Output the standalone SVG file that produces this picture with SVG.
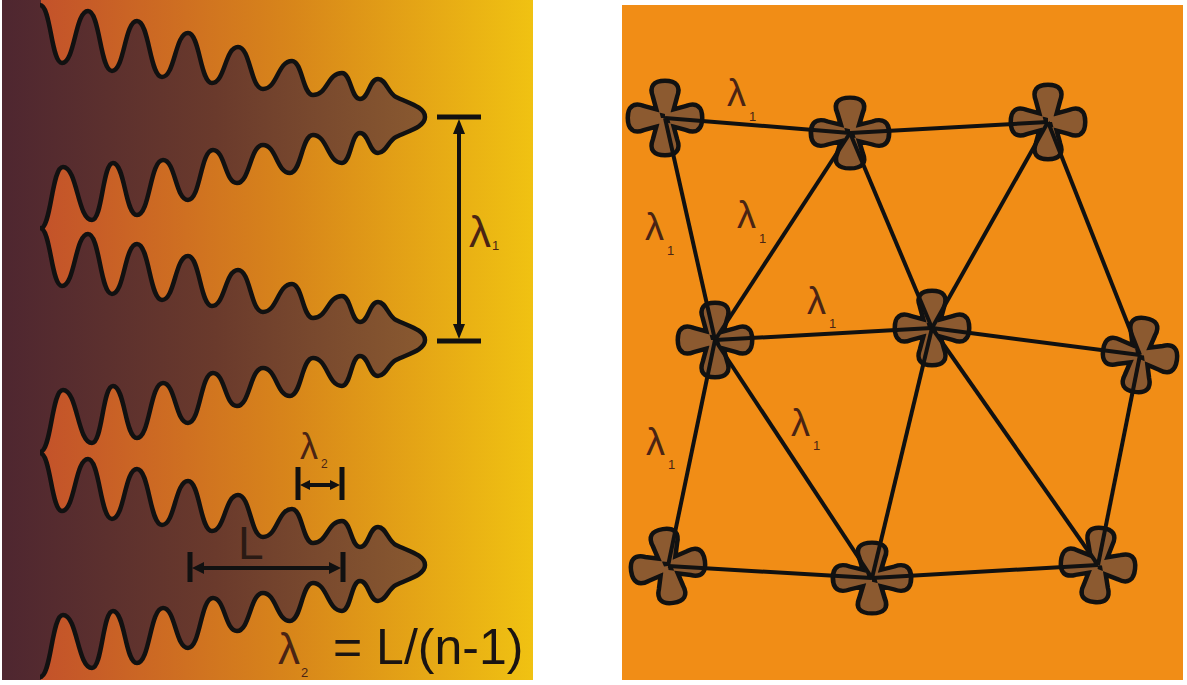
<svg xmlns="http://www.w3.org/2000/svg" width="1187" height="685" viewBox="0 0 1187 685">
<style>
.wave{fill:none;stroke:#111;stroke-width:4.5;stroke-linejoin:round}
.bar{stroke:#111;stroke-width:4;fill:none}
.edge{stroke:#111;stroke-width:4;fill:none}
.lam{font-family:"Liberation Sans",sans-serif;fill:#4a2414}
.sub{font-family:"Liberation Sans",sans-serif;fill:#4a2414}
</style>
<defs>
<linearGradient id="bg" x1="0" y1="0" x2="533" y2="0" gradientUnits="userSpaceOnUse">
<stop offset="0" stop-color="#c04a2c"/><stop offset="0.15" stop-color="#c65a28"/><stop offset="0.55" stop-color="#d8861a"/><stop offset="1" stop-color="#f0c212"/>
</linearGradient>
<linearGradient id="br" x1="0" y1="0" x2="430" y2="0" gradientUnits="userSpaceOnUse">
<stop offset="0" stop-color="#4e2630"/><stop offset="0.5" stop-color="#6a3a2c"/><stop offset="1" stop-color="#8a5a30"/>
</linearGradient>
<clipPath id="lp"><rect x="2" y="0" width="531" height="680"/></clipPath>
<path id="fw" d="M40,-112 C51,-112 51,-54 62,-54 C75,-54 75,-106 88,-106 C100,-106 100,-46 112,-46 C124.5,-46 124.5,-96 137,-96 C149.5,-96 149.5,-40 162,-40 C175,-40 175,-84 188,-84 C200,-84 200,-34 212,-34 C225,-34 225,-70 238,-70 C250.5,-70 250.5,-28 263,-28 C277.5,-28 277.5,-56 292,-56 C302.5,-56 302.5,-22 313,-22 C327.5,-22 327.5,-44 342,-44 C351,-44 351,-18 360,-18 C369,-18 369,-38 378,-38 C386,-38 388,-24 396,-20 C408,-14 425,-10 425,0 C425,10 408,14 396,20 C388,24 386,36 378,36 C369,36 369,16 360,16 C351,16 351,46 342,46 C327.5,46 327.5,18 313,18 C301.5,18 301.5,56 290,56 C276.5,56 276.5,28 263,28 C250,28 250,66 237,66 C225,66 225,33 213,33 C200.5,33 200.5,83 188,83 C175.5,83 175.5,43 163,43 C150,43 150,98 137,98 C125,98 125,46 113,46 C102.5,46 102.5,103 92,103 C77.5,103 77.5,50 63,50 C51.5,50 51.5,112 40,112"/>
<path id="clv" d="M-4,0 L-10,-22 Q-15,-35 0,-35 Q15,-35 10,-22 L4,0 Z M-4,0 L-10,22 Q-15,35 0,35 Q15,35 10,22 L4,0 Z M0,-4 L-22,-10 Q-35,-15 -35,0 Q-35,15 -22,10 L0,4 Z M0,-4 L22,-10 Q35,-15 35,0 Q35,15 22,10 L0,4 Z"/>
<g id="node"><use href="#clv" fill="#111" stroke="#111" stroke-width="9" stroke-linejoin="round"/><use href="#clv" fill="#8c5a30"/></g>
</defs>

<g id="left-panel" clip-path="url(#lp)">
<rect x="0" y="0" width="533" height="680" fill="url(#bg)"/>
<rect x="0" y="-5" width="41" height="690" fill="url(#br)"/>
<g id="fingers">
<g transform="translate(0,117)"><use href="#fw" fill="url(#br)"/><use href="#fw" class="wave"/></g>
<g transform="translate(0,340)"><use href="#fw" fill="url(#br)"/><use href="#fw" class="wave"/></g>
<g transform="translate(0,565)"><use href="#fw" fill="url(#br)"/><use href="#fw" class="wave"/></g>
</g>
</g>

<g id="dimensions">
<line x1="437" y1="117" x2="481" y2="117" stroke="#111" stroke-width="5"/>
<line x1="437" y1="341" x2="481" y2="341" stroke="#111" stroke-width="5"/>
<line x1="459" y1="128" x2="459" y2="330" class="bar"/>
<polygon points="459,119 453,134 465,134" fill="#111"/>
<polygon points="459,339 453,324 465,324" fill="#111"/>
<text x="469" y="247" class="lam" font-size="44">λ</text><text x="492" y="250" class="sub" font-size="13">1</text>

<line x1="298" y1="467" x2="298" y2="500" stroke="#111" stroke-width="5"/>
<line x1="342" y1="467" x2="342" y2="500" stroke="#111" stroke-width="5"/>
<line x1="304" y1="485" x2="336" y2="485" class="bar" stroke-width="3"/>
<polygon points="300,485 310,480 310,490" fill="#111"/><polygon points="340,485 330,480 330,490" fill="#111"/>
<text x="300" y="459" class="lam" font-size="36">λ</text><text x="321" y="468" class="sub" font-size="12">2</text>

<line x1="190" y1="552" x2="190" y2="582" stroke="#111" stroke-width="5"/>
<line x1="343" y1="552" x2="343" y2="582" stroke="#111" stroke-width="5"/>
<line x1="196" y1="568" x2="337" y2="568" class="bar" stroke-width="3.5"/>
<polygon points="192,568 204,562 204,574" fill="#111"/><polygon points="341,568 329,562 329,574" fill="#111"/>
<text x="238" y="559" font-family="Liberation Sans,sans-serif" font-size="46" fill="#2a1a14">L</text>

<text x="278" y="664" class="lam" font-size="44">λ</text><text x="301" y="677" class="sub" font-size="13">2</text>
<text x="333" y="664" font-family="Liberation Sans,sans-serif" font-size="50" fill="#1a1412">= L/(n-1)</text>
</g>

<rect id="right-panel" x="622" y="5" width="561" height="675" fill="#f18d16"/>

<g id="n1" transform="translate(665,118)"><use href="#node"/></g>
<g id="n2" transform="translate(850,133) scale(1.05,0.95)"><use href="#node"/></g>
<g id="n3" transform="translate(1048,122)"><use href="#node"/></g>
<g id="n4" transform="translate(715,340)"><use href="#node"/></g>
<g id="n5" transform="translate(932,328)"><use href="#node"/></g>
<g id="n6" transform="translate(1140,355) rotate(8)"><use href="#node"/></g>
<g id="n7" transform="translate(668,566) rotate(-8)"><use href="#node"/></g>
<g id="n8" transform="translate(872,578) scale(1.05,0.95)"><use href="#node"/></g>
<g id="n9" transform="translate(1098,565) rotate(6)"><use href="#node"/></g>

<g id="connectors" class="edge">
<line x1="665" y1="118" x2="850" y2="133"/>
<line x1="850" y1="133" x2="1048" y2="122"/>
<line x1="665" y1="118" x2="715" y2="340"/>
<line x1="715" y1="340" x2="850" y2="133"/>
<line x1="850" y1="133" x2="932" y2="328"/>
<line x1="1048" y1="122" x2="932" y2="328"/>
<line x1="1048" y1="122" x2="1140" y2="355"/>
<line x1="715" y1="340" x2="932" y2="328"/>
<line x1="932" y1="328" x2="1140" y2="355"/>
<line x1="715" y1="340" x2="668" y2="566"/>
<line x1="715" y1="340" x2="872" y2="578"/>
<line x1="932" y1="328" x2="872" y2="578"/>
<line x1="932" y1="328" x2="1098" y2="565"/>
<line x1="1140" y1="355" x2="1098" y2="565"/>
<line x1="668" y1="566" x2="872" y2="578"/>
<line x1="872" y1="578" x2="1098" y2="565"/>
</g>

<g id="edge-labels">
<text x="727" y="106" class="lam" font-size="38">λ</text><text x="749" y="121" class="sub" font-size="13">1</text>
<text x="645" y="240" class="lam" font-size="38">λ</text><text x="667" y="255" class="sub" font-size="13">1</text>
<text x="737" y="228" class="lam" font-size="38">λ</text><text x="759" y="243" class="sub" font-size="13">1</text>
<text x="807" y="314" class="lam" font-size="38">λ</text><text x="829" y="328" class="sub" font-size="13">1</text>
<text x="646" y="455" class="lam" font-size="38">λ</text><text x="668" y="469" class="sub" font-size="13">1</text>
<text x="791" y="436" class="lam" font-size="38">λ</text><text x="813" y="450" class="sub" font-size="13">1</text>
</g>
</svg>
